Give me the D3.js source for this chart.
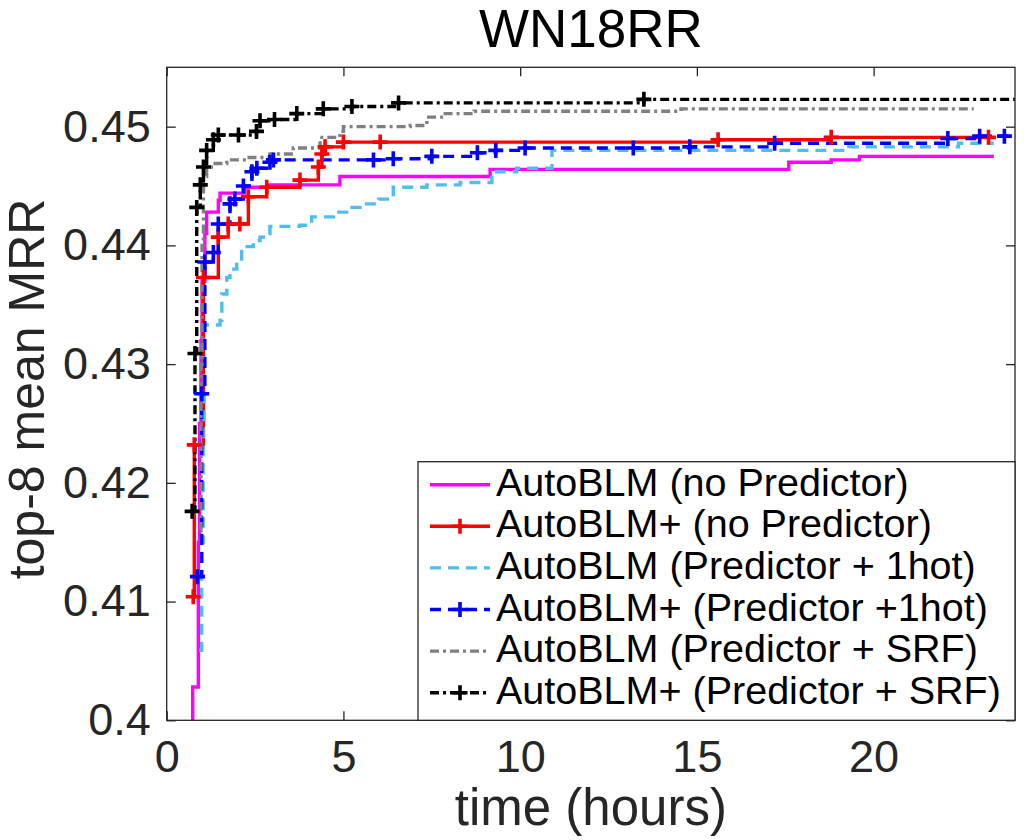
<!DOCTYPE html>
<html lang="en">
<head>
    <meta charset="UTF-8">
    <title>WN18RR</title>
    <script src="https://cdn.jsdelivr.net/npm/d3@7"></script>
    <style>
        body { margin: 0; background: #fff; }
        svg { display: block; font-family: "Liberation Sans", Arial, Helvetica, sans-serif; }
    </style>
</head>
<body>
    <div id="chart"></div>

    <script>
        // ticks
        const xTicks = [0, 5, 10, 15, 20];
        const xTickLabels = ["0", "5", "10", "15", "20"];
        const yTicks = [0.40, 0.41, 0.42, 0.43, 0.44, 0.45];
        const yTickLabels = ["0.4", "0.41", "0.42", "0.43", "0.44", "0.45"];

        const seriesNames = [
            "AutoBLM (no Predictor)",
            "AutoBLM+ (no Predictor)",
            "AutoBLM (Predictor + 1hot)",
            "AutoBLM+ (Predictor +1hot)",
            "AutoBLM (Predictor + SRF)",
            "AutoBLM+ (Predictor + SRF)"
        ];

        // AutoBLM (no Predictor)
        const tMagenta = [0.735, 0.735, 0.895, 0.93, 0.97, 1.00, 1.08, 1.13, 1.46, 1.51, 2.21, 2.83, 4.90, 9.15, 17.6, 18.8, 19.6];
        const vMagenta = [0.3990, 0.4028, 0.4150, 0.4250, 0.4320, 0.4370, 0.4410, 0.4428, 0.4438, 0.4444, 0.4449, 0.4451, 0.4458, 0.4464, 0.4470, 0.4472, 0.4475];
        // AutoBLM+ (no Predictor)
        const tRed = [0.75, 0.78, 1.04, 1.46, 1.74, 2.07, 2.31, 2.83, 3.77, 4.29, 4.39, 4.48, 5.00, 6.04, 15.6, 18.8, 23.25];
        const vRed = [0.4104, 0.4232, 0.4373, 0.4407, 0.4418, 0.4418, 0.4441, 0.4449, 0.4455, 0.4466, 0.4477, 0.4483, 0.4487, 0.4487, 0.4489, 0.4491, 0.4491];
        // AutoBLM (Predictor + 1hot)
        const tCyan = [0.92, 0.99, 1.03, 1.06, 1.51, 1.56, 1.70, 1.79, 1.98, 2.12, 2.45, 2.64, 2.83, 2.92, 3.77, 4.10, 4.72, 5.09, 5.47, 6.00, 6.41, 7.36, 8.30, 9.20, 9.90, 10.9, 19.3, 22.4];
        const vCyan = [0.4059, 0.4150, 0.4250, 0.4333, 0.4337, 0.4359, 0.4373, 0.4380, 0.4387, 0.4399, 0.4404, 0.4407, 0.4410, 0.4416, 0.4417, 0.4424, 0.4428, 0.4432, 0.4435, 0.4439, 0.4449, 0.4451, 0.4453, 0.4462, 0.4465, 0.4480, 0.4483, 0.4486];
        // AutoBLM+ (Predictor +1hot)
        const tBlue = [0.87, 0.99, 1.08, 1.32, 1.46, 1.79, 1.93, 2.17, 2.41, 2.55, 2.92, 3.02, 5.85, 6.41, 7.50, 8.79, 9.31, 10.14, 13.2, 14.8, 17.2, 22.1, 23.0, 23.7];
        const vBlue = [0.4121, 0.4275, 0.4386, 0.4394, 0.4418, 0.4435, 0.4439, 0.4450, 0.4462, 0.4465, 0.4470, 0.4472, 0.4472, 0.4473, 0.4475, 0.4478, 0.4480, 0.4482, 0.4482, 0.4483, 0.4486, 0.4490, 0.4492, 0.4492];
        // AutoBLM (Predictor + SRF)
        const tGray = [0.95, 0.97, 1.00, 1.04, 1.13, 1.32, 1.70, 2.26, 2.92, 3.58, 4.34, 4.90, 5.00, 6.89, 7.36, 7.83, 8.70, 14.55];
        const vGray = [0.4160, 0.4300, 0.4400, 0.4458, 0.4466, 0.4469, 0.4472, 0.4474, 0.4477, 0.4482, 0.4491, 0.4496, 0.4500, 0.4501, 0.4508, 0.4511, 0.4513, 0.4515];
        // AutoBLM+ (Predictor + SRF)
        const tBlack = [0.72, 0.80, 0.85, 0.95, 1.04, 1.13, 1.32, 1.46, 2.03, 2.54, 2.64, 3.05, 3.68, 4.43, 5.24, 6.56, 13.5];
        const vBlack = [0.4176, 0.4309, 0.4432, 0.4451, 0.4466, 0.4480, 0.4489, 0.4493, 0.4493, 0.4496, 0.4505, 0.4506, 0.4511, 0.4515, 0.4517, 0.4520, 0.4523];

        // time at which each run stops
        const tEnd = [23.4, 23.3, 23.4, 23.8, 22.83, 24];

        const series = [
            { t: tMagenta, v: vMagenta, color: "#ff00ff", dash: null, marker: false },
            { t: tRed, v: vRed, color: "#ff0000", dash: null, marker: true },
            { t: tCyan, v: vCyan, color: "#4dbeee", dash: "11 7", marker: false },
            { t: tBlue, v: vBlue, color: "#0000ff", dash: "11 7", marker: true },
            { t: tGray, v: vGray, color: "#808080", dash: "9 4 3 4", marker: false },
            { t: tBlack, v: vBlack, color: "#000000", dash: "9 4 3 4", marker: true }
        ].map((s, i) => ({
            ...s,
            name: seriesNames[i],
            end: tEnd[i],
            points: s.t.map((t, j) => [t, s.v[j]])
        }));

        const width = 1025;
        const height = 840;
        const marginTop = 67.3;
        const marginRight = 10;
        const marginBottom = 119.7;
        const marginLeft = 166.7;
        const axisColor = "#262626";
        const lineWidth = 3.4;

        const x = d3.scaleLinear()
            .domain([0, 24])
            .range([marginLeft, width - marginRight]);

        const y = d3.scaleLinear()
            .domain([0.40, 0.455])
            .range([height - marginBottom, marginTop]);

        const svg = d3.select("#chart").append("svg")
            .attr("width", width)
            .attr("height", height);

        svg.append("defs").append("clipPath")
            .attr("id", "plot-clip")
            .append("rect")
            .attr("x", x(0))
            .attr("y", y(0.455))
            .attr("width", x(24) - x(0))
            .attr("height", y(0.40) - y(0.455));

        // ticks (inside, on all four sides like a boxed MATLAB axes)
        svg.append("g")
            .attr("transform", `translate(0,${y(0.40)})`)
            .call(d3.axisBottom(x).tickValues(xTicks).tickFormat((d, i) => xTickLabels[i])
                .tickSize(-9).tickPadding(20))
            .call(g => g.select(".domain").remove())
            .call(g => g.selectAll("line").attr("stroke", axisColor).attr("stroke-width", 1.3))
            .call(g => g.selectAll("text").attr("fill", axisColor).attr("font-size", 45)
                .attr("font-family", "Liberation Sans, Arial, sans-serif"));

        svg.append("g")
            .attr("transform", `translate(0,${y(0.455)})`)
            .call(d3.axisTop(x).tickValues(xTicks).tickFormat("").tickSize(-9))
            .call(g => g.select(".domain").remove())
            .call(g => g.selectAll("line").attr("stroke", axisColor).attr("stroke-width", 1.3));

        svg.append("g")
            .attr("transform", `translate(${x(0)},0)`)
            .call(d3.axisLeft(y).tickValues(yTicks).tickFormat((d, i) => yTickLabels[i])
                .tickSize(-9).tickPadding(16))
            .call(g => g.select(".domain").remove())
            .call(g => g.selectAll("line").attr("stroke", axisColor).attr("stroke-width", 1.3))
            .call(g => g.selectAll("text").attr("fill", axisColor).attr("font-size", 45)
                .attr("font-family", "Liberation Sans, Arial, sans-serif"));

        svg.append("g")
            .attr("transform", `translate(${x(24)},0)`)
            .call(d3.axisRight(y).tickValues(yTicks).tickFormat("").tickSize(-9))
            .call(g => g.select(".domain").remove())
            .call(g => g.selectAll("line").attr("stroke", axisColor).attr("stroke-width", 1.3));

        // lines
        const line = d3.line()
            .x(d => x(d[0]))
            .y(d => y(d[1]))
            .curve(d3.curveStepAfter);

        const plot = svg.append("g").attr("clip-path", "url(#plot-clip)");

        const cross = (g, px, py, color) => {
            g.append("path")
                .attr("d", `M${px - 7.5},${py}H${px + 7.5}M${px},${py - 7.5}V${py + 7.5}`)
                .attr("stroke", color)
                .attr("stroke-width", 3.6)
                .attr("fill", "none");
        };

        series.forEach(s => {
            const pts = s.points.concat([[s.end, s.v[s.v.length - 1]]]);
            plot.append("path")
                .datum(pts)
                .attr("fill", "none")
                .attr("stroke", s.color)
                .attr("stroke-width", lineWidth)
                .attr("stroke-dasharray", s.dash)
                .attr("d", line);
        });

        series.filter(s => s.marker).forEach(s => {
            const mg = plot.append("g");
            s.points.forEach(p => cross(mg, x(p[0]), y(p[1]), s.color));
        });

        // frame
        svg.append("rect")
            .attr("x", x(0))
            .attr("y", y(0.455))
            .attr("width", x(24) - x(0))
            .attr("height", y(0.40) - y(0.455))
            .attr("fill", "none")
            .attr("stroke", axisColor)
            .attr("stroke-width", 1.3);

        // legend
        const legend = svg.append("g");
        const legX = 418, legY = 461.7;
        legend.append("rect")
            .attr("x", legX)
            .attr("y", legY)
            .attr("width", x(24) - legX)
            .attr("height", y(0.40) - legY)
            .attr("fill", "#fff")
            .attr("stroke", axisColor)
            .attr("stroke-width", 1.3);

        series.forEach((s, i) => {
            const base = 495.7 + i * 41.6;
            const ly = base - 11;
            legend.append("line")
                .attr("x1", 430).attr("x2", 490)
                .attr("y1", ly).attr("y2", ly)
                .attr("stroke", s.color)
                .attr("stroke-width", lineWidth)
                .attr("stroke-dasharray", s.dash);
            if (s.marker) cross(legend, 460, ly, s.color);
            legend.append("text")
                .attr("x", 496)
                .attr("y", base)
                .attr("font-size", 39.5)
                .attr("fill", "#000")
                .text(s.name);
        });

        // titles
        svg.append("text")
            .attr("x", (x(0) + x(24)) / 2)
            .attr("y", 46.7)
            .attr("text-anchor", "middle")
            .attr("font-size", 53)
            .attr("fill", "#000")
            .text("WN18RR");

        svg.append("text")
            .attr("x", (x(0) + x(24)) / 2)
            .attr("y", 825)
            .attr("text-anchor", "middle")
            .attr("font-size", 51)
            .attr("fill", axisColor)
            .text("time (hours)");

        svg.append("text")
            .attr("transform", `translate(44,389) rotate(-90)`)
            .attr("text-anchor", "middle")
            .attr("font-size", 50)
            .attr("fill", axisColor)
            .text("top-8 mean MRR");
    </script>
</body>
</html>
